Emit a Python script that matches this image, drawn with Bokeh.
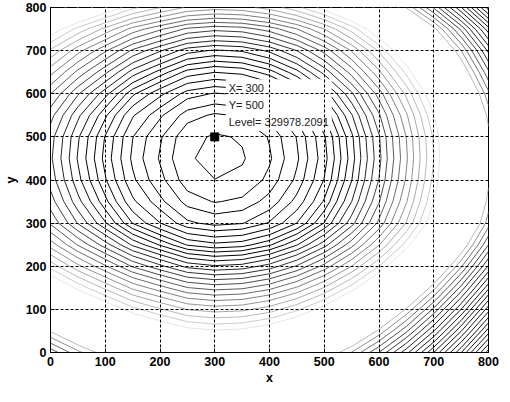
import numpy as np
from bokeh.plotting import figure
from bokeh.models import Range1d, FixedTicker, Label
from bokeh.embed import file_html
from bokeh.resources import INLINE

# ---- data ----
x_grid = [0, 50, 100, 150, 200, 250, 300, 350, 400, 450, 500, 550, 600, 650, 700, 750, 800]
y_grid = [0, 50, 100, 150, 200, 250, 300, 350, 400, 450, 500, 550, 600, 650, 700, 750, 800]

# field values (hundreds), one row per y value (y = 0 first)
z_grid = [
    [2800, 2589, 2410, 2236, 2122, 2016, 1981, 1998, 2065, 2182, 2349, 2566, 2833, 3150, 3517, 3934, 4401],
    [2460, 2249, 2070, 1896, 1782, 1676, 1641, 1658, 1725, 1842, 2009, 2226, 2493, 2810, 3177, 3594, 4061],
    [2134, 1923, 1744, 1570, 1456, 1350, 1315, 1332, 1399, 1516, 1683, 1900, 2167, 2484, 2851, 3268, 3735],
    [1812, 1601, 1422, 1248, 1134, 1028, 993, 1010, 1077, 1194, 1361, 1578, 1845, 2162, 2529, 2946, 3413],
    [1503, 1292, 1113, 939, 825, 719, 684, 701, 768, 885, 1052, 1269, 1536, 1853, 2220, 2637, 3104],
    [1227, 1016, 837, 663, 549, 443, 408, 425, 492, 609, 776, 993, 1260, 1577, 1944, 2361, 2828],
    [1011, 800, 621, 447, 333, 227, 192, 209, 276, 393, 560, 777, 1044, 1361, 1728, 2145, 2612],
    [909, 698, 519, 345, 231, 125, 90, 107, 174, 291, 458, 675, 942, 1259, 1626, 2043, 2510],
    [846, 635, 456, 282, 168, 62, 27, 44, 111, 228, 395, 612, 879, 1196, 1563, 1980, 2447],
    [820, 609, 430, 256, 142, 36, 1, 18, 85, 202, 369, 586, 853, 1170, 1537, 1954, 2421],
    [835, 624, 445, 271, 157, 51, 16, 33, 100, 217, 384, 601, 868, 1185, 1552, 1969, 2436],
    [903, 692, 513, 339, 225, 119, 84, 101, 168, 285, 452, 669, 936, 1253, 1620, 2037, 2504],
    [1026, 815, 636, 462, 348, 242, 207, 224, 291, 408, 575, 792, 1059, 1376, 1743, 2160, 2627],
    [1212, 1001, 822, 648, 534, 428, 393, 410, 477, 594, 761, 978, 1245, 1562, 1929, 2346, 2813],
    [1425, 1214, 1035, 861, 747, 641, 606, 623, 690, 807, 974, 1191, 1458, 1775, 2142, 2559, 3026],
    [1716, 1505, 1326, 1152, 1038, 932, 897, 914, 981, 1098, 1265, 1482, 1749, 2066, 2433, 2850, 3317],
    [2125, 1914, 1735, 1561, 1447, 1341, 1306, 1323, 1390, 1507, 1674, 1891, 2158, 2475, 2842, 3259, 3726],
]

contour_levels = [
    26.0, 94.1, 148.8, 213.2, 269.0, 331.2, 392.0, 449.4, 501.8, 557.0,
    615.0, 676.0, 739.8, 806.6, 876.2, 948.6, 1024.0, 1102.2, 1183.4, 1267.4,
    1354.2, 1444.0, 1536.6, 1628.1, 1722.3, 1814.8, 1909.7, 2002.6, 2097.6, 2190.2,
    2284.8, 2376.6, 2470.1, 2560.4, 2652.3, 2740.5, 2830.2, 2916.0, 3003.0, 3091.4,
    3181.0, 3266.1, 3352.4, 3434.0, 3516.5, 3600.0, 3684.5, 3770.0, 3856.4, 3937.6,
    4019.6, 4102.4, 4186.1, 4270.6, 4356.0,
]

x_ticks = [0, 100, 200, 300, 400, 500, 600, 700, 800]
y_ticks = [0, 100, 200, 300, 400, 500, 600, 700, 800]

tip_x = 300
tip_y = 500
tip_level = 329978.2091

# ---- style: grey shade of each contour level (0 = black, 1 = white) ----
level_grey = [
    0.0, 0.0, 0.0, 0.0, 0.0, 0.0, 0.0, 0.0, 0.0, 0.0,
    0.05, 0.10, 0.15, 0.20, 0.25, 0.30, 0.36, 0.42, 0.50, 0.58,
    0.66, 0.73, 0.80,
    0.90,
    1.0, 1.0, 1.0, 1.0, 1.0, 1.0, 1.0, 1.0,
    0.72, 0.56, 0.44, 0.34, 0.27, 0.22, 0.18, 0.15, 0.12,
    0.10, 0.10, 0.10, 0.10, 0.10, 0.10, 0.10, 0.10, 0.10, 0.10, 0.10, 0.10, 0.10, 0.10,
]
level_colors = []
for g in level_grey:
    v = int(round(g * 255))
    level_colors.append("#%02x%02x%02x" % (v, v, v))

FONT = "Liberation Sans"

p = figure(
    frame_width=438, frame_height=345,
    min_border_left=45, min_border_right=11, min_border_top=7, min_border_bottom=34,
    x_range=Range1d(0, 800), y_range=Range1d(0, 800),
    output_backend="svg", toolbar_location=None,
    background_fill_color="white", border_fill_color="white",
)

p.contour(
    x=np.array(x_grid, dtype=float),
    y=np.array(y_grid, dtype=float),
    z=np.array(z_grid, dtype=float),
    levels=contour_levels,
    line_color=level_colors,
    line_width=1,
)

# data tip
p.scatter([tip_x], [tip_y], marker="square", size=8, color="black")
tip = Label(
    x=tip_x, y=tip_y, x_units="data", y_units="data",
    x_offset=11, y_offset=6,
    text="X= %d\nY= %d\nLevel= %.4f" % (tip_x, tip_y, tip_level),
    text_font=FONT, text_font_size="11px", text_color="#202020",
    text_align="left", text_baseline="bottom", text_line_height=1.4,
    background_fill_color="white", background_fill_alpha=1.0,
    padding=3,
)
p.add_layout(tip)

# axes
p.xaxis.ticker = FixedTicker(ticks=x_ticks)
p.yaxis.ticker = FixedTicker(ticks=y_ticks)
p.xaxis.axis_label = "x"
p.yaxis.axis_label = "y"
for ax in (p.xaxis, p.yaxis):
    ax.major_label_text_font = FONT
    ax.major_label_text_font_size = "12.5px"
    ax.major_label_text_font_style = "bold"
    ax.major_label_text_color = "black"
    ax.axis_label_text_font = FONT
    ax.axis_label_text_font_size = "12.5px"
    ax.axis_label_text_font_style = "bold"
    ax.axis_label_text_color = "black"
    ax.major_tick_in = 4
    ax.major_tick_out = 0
    ax.minor_tick_line_color = None
    ax.axis_line_color = "black"
    ax.major_tick_line_color = "black"
    ax.major_label_standoff = 4
p.xaxis.axis_label_standoff = 2
p.yaxis.axis_label_standoff = 5

# grid
p.xgrid.ticker = FixedTicker(ticks=x_ticks)
p.ygrid.ticker = FixedTicker(ticks=y_ticks)
for gr in (p.xgrid, p.ygrid):
    gr.grid_line_color = "black"
    gr.grid_line_dash = "3 2"
    gr.grid_line_width = 1
    gr.level = "overlay"

p.outline_line_color = "black"
p.outline_line_width = 1

open("out.html", "w").write(file_html(p, INLINE))
